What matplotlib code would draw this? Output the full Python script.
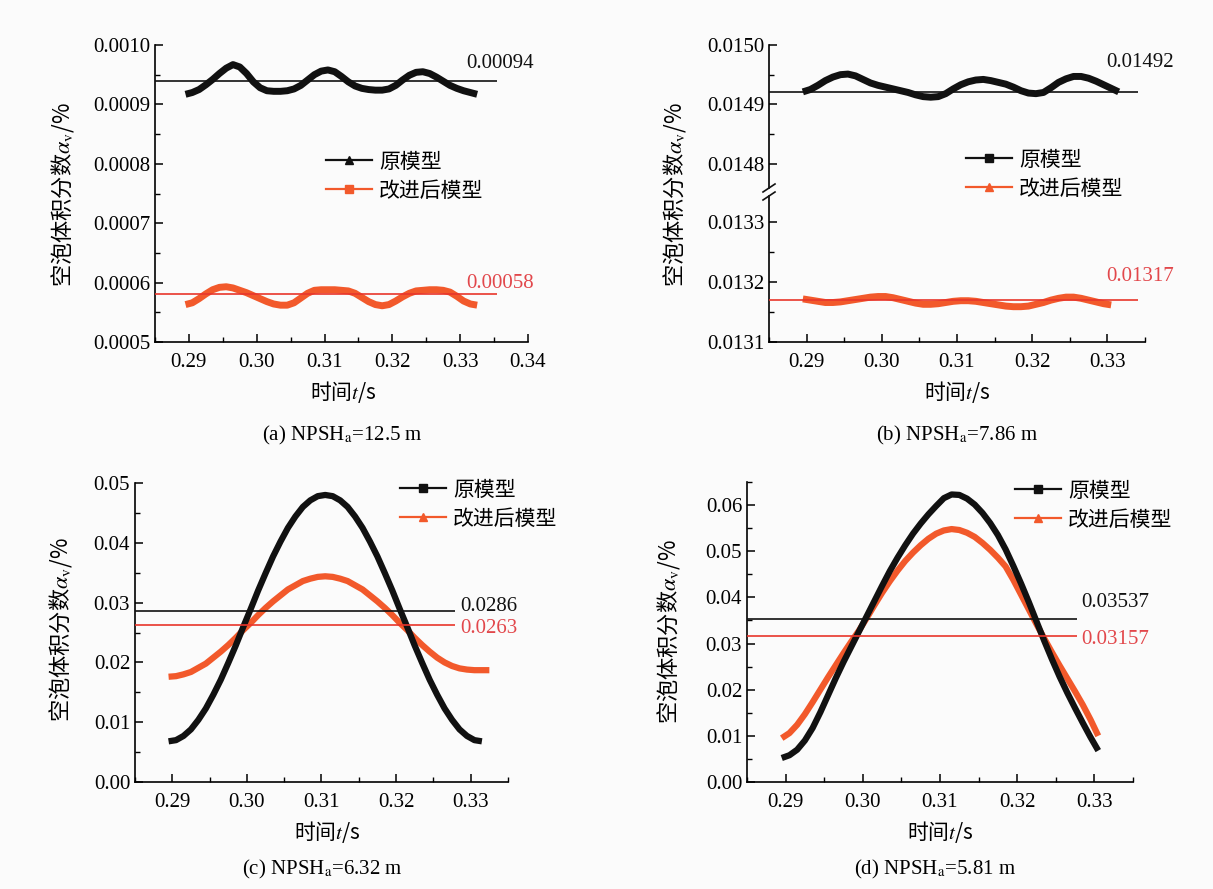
import numpy as np
import matplotlib
matplotlib.use('Agg')
import matplotlib.pyplot as plt
from matplotlib.lines import Line2D
from matplotlib.ticker import MultipleLocator, FormatStrFormatter

plt.rcParams['font.family'] = ['Liberation Serif', 'Noto Sans CJK SC']
plt.rcParams['mathtext.fontset'] = 'stix'
plt.rcParams['font.size'] = 15
plt.rcParams['axes.unicode_minus'] = False

nan = np.nan

# shared time axis (s)
time_s = [0.2895, 0.2905, 0.2915, 0.2925, 0.2935, 0.2945, 0.2955, 0.2965, 0.2975, 0.2985,
          0.2995, 0.3005, 0.3015, 0.3025, 0.3035, 0.3045, 0.3055, 0.3065, 0.3075, 0.3085,
          0.3095, 0.3105, 0.3115, 0.3125, 0.3135, 0.3145, 0.3155, 0.3165, 0.3175, 0.3185,
          0.3195, 0.3205, 0.3215, 0.3225, 0.3235, 0.3245, 0.3255, 0.3265, 0.3275, 0.3285,
          0.3295, 0.3305, 0.3315, 0.3325]

# (a) NPSHa = 12.5 m
a_orig = [9.17e-4, 9.20e-4, 9.25e-4, 9.33e-4, 9.42e-4, 9.52e-4, 9.61e-4, 9.67e-4, 9.63e-4, 9.52e-4,
          9.38e-4, 9.28e-4, 9.23e-4, 9.22e-4, 9.22e-4, 9.23e-4, 9.26e-4, 9.32e-4, 9.41e-4, 9.50e-4,
          9.56e-4, 9.58e-4, 9.55e-4, 9.47e-4, 9.38e-4, 9.31e-4, 9.27e-4, 9.25e-4, 9.24e-4, 9.24e-4,
          9.26e-4, 9.32e-4, 9.41e-4, 9.49e-4, 9.54e-4, 9.55e-4, 9.52e-4, 9.46e-4, 9.39e-4, 9.32e-4,
          9.27e-4, 9.23e-4, 9.20e-4, 9.17e-4]
a_impr = [5.63e-4, 5.66e-4, 5.73e-4, 5.81e-4, 5.88e-4, 5.92e-4, 5.93e-4, 5.91e-4, 5.87e-4, 5.83e-4,
          5.78e-4, 5.73e-4, 5.68e-4, 5.64e-4, 5.62e-4, 5.62e-4, 5.66e-4, 5.74e-4, 5.82e-4, 5.87e-4,
          5.88e-4, 5.88e-4, 5.88e-4, 5.87e-4, 5.86e-4, 5.82e-4, 5.75e-4, 5.68e-4, 5.63e-4, 5.61e-4,
          5.63e-4, 5.69e-4, 5.76e-4, 5.82e-4, 5.86e-4, 5.87e-4, 5.88e-4, 5.88e-4, 5.87e-4, 5.84e-4,
          5.77e-4, 5.69e-4, 5.64e-4, 5.62e-4]
a_mean = [0.00094, 0.00058]
a_mean_text = ['0.00094', '0.00058']

# (b) NPSHa = 7.86 m
b_orig = [0.014921, 0.014925, 0.014932, 0.014940, 0.014946, 0.014950, 0.014951, 0.014948, 0.014942, 0.014936,
          0.014932, 0.014929, 0.014926, 0.014923, 0.014920, 0.014916, 0.014913, 0.014912, 0.014913, 0.014918,
          0.014926, 0.014933, 0.014938, 0.014941, 0.014942, 0.014940, 0.014937, 0.014934, 0.014929, 0.014923,
          0.014919, 0.014918, 0.014920, 0.014928, 0.014937, 0.014943, 0.014947, 0.014947, 0.014944, 0.014939,
          0.014933, 0.014927, 0.014921, nan]
b_impr = [0.013172, 0.013170, 0.013168, 0.013166, 0.013166, 0.013167, 0.013169, 0.013171, 0.013173, 0.013175,
          0.013176, 0.013176, 0.013174, 0.013171, 0.013168, 0.013165, 0.013163, 0.013163, 0.013164, 0.013166,
          0.013168, 0.013169, 0.013169, 0.013168, 0.013166, 0.013164, 0.013162, 0.013160, 0.013159, 0.013159,
          0.013160, 0.013163, 0.013166, 0.013170, 0.013173, 0.013175, 0.013175, 0.013173, 0.013170, 0.013167,
          0.013164, 0.013162, nan, nan]
b_mean = [0.01492, 0.01317]
b_mean_text = ['0.01492', '0.01317']

# (c) NPSHa = 6.32 m
c_orig = [0.0068, 0.0070, 0.0077, 0.0088, 0.0104, 0.0123, 0.0146, 0.0171, 0.0199, 0.0228,
          0.0259, 0.0289, 0.0320, 0.0349, 0.0377, 0.0402, 0.0425, 0.0444, 0.0460, 0.0471,
          0.0478, 0.0480, 0.0478, 0.0471, 0.0460, 0.0444, 0.0425, 0.0402, 0.0377, 0.0349,
          0.0320, 0.0289, 0.0259, 0.0228, 0.0199, 0.0171, 0.0146, 0.0123, 0.0104, 0.0088,
          0.0077, 0.0070, 0.0068, nan]
c_impr = [0.0176, 0.0177, 0.0180, 0.0184, 0.0191, 0.0198, 0.0208, 0.0218, 0.0229, 0.0241,
          0.0254, 0.0266, 0.0279, 0.0291, 0.0302, 0.0312, 0.0322, 0.0329, 0.0336, 0.0340,
          0.0343, 0.0344, 0.0343, 0.0340, 0.0336, 0.0329, 0.0322, 0.0312, 0.0302, 0.0291,
          0.0279, 0.0266, 0.0254, 0.0241, 0.0229, 0.0218, 0.0208, 0.0200, 0.0194, 0.0190,
          0.0188, 0.0187, 0.0187, 0.0187]
c_mean = [0.0286, 0.0263]
c_mean_text = ['0.0286', '0.0263']

# (d) NPSHa = 5.81 m
d_orig = [0.0052, 0.0058, 0.0070, 0.0090, 0.0117, 0.0151, 0.0188, 0.0225, 0.0260, 0.0293,
          0.0326, 0.0359, 0.0392, 0.0425, 0.0457, 0.0486, 0.0513, 0.0538, 0.0560, 0.0580,
          0.0598, 0.0615, 0.0623, 0.0622, 0.0614, 0.0601, 0.0583, 0.0561, 0.0535, 0.0504,
          0.0468, 0.0430, 0.0390, 0.0348, 0.0306, 0.0266, 0.0228, 0.0193, 0.0160, 0.0128,
          0.0097, 0.0068, nan, nan]
d_impr = [0.0095, 0.0106, 0.0124, 0.0147, 0.0173, 0.0200, 0.0227, 0.0253, 0.0279, 0.0304,
          0.0328, 0.0355, 0.0383, 0.0410, 0.0435, 0.0458, 0.0479, 0.0497, 0.0513, 0.0527,
          0.0538, 0.0545, 0.0548, 0.0546, 0.0540, 0.0531, 0.0518, 0.0503, 0.0486, 0.0467,
          0.0438, 0.0406, 0.0374, 0.0342, 0.0311, 0.0281, 0.0252, 0.0224, 0.0196, 0.0167,
          0.0135, 0.0100, nan, nan]
d_mean = [0.03537, 0.03157]
d_mean_text = ['0.03537', '0.03157']

series_names = ['原模型', '改进后模型']
captions = ['(a) NPSH$_{\\rm a}$=12.5 m', '(b) NPSH$_{\\rm a}$=7.86 m',
            '(c) NPSH$_{\\rm a}$=6.32 m', '(d) NPSH$_{\\rm a}$=5.81 m']
ylabel = '空泡体积分数$\\alpha_{\\rm v}$/%'
xlabel = '时间$t$/s'
CJK = 'Noto Sans CJK SC'

BLACK = '#111111'
RED = '#f2592b'
RED_LINE = '#e8352b'
RED_TEXT = '#e2474b'

W, H = 1213, 889
fig = plt.figure(figsize=(W / 100, H / 100), dpi=100, facecolor='#fbfbfb')


def px_axes(l, t, r, b):
    ax = fig.add_axes([l / W, 1 - b / H, (r - l) / W, (b - t) / H])
    ax.patch.set_alpha(0)
    return ax


def style(ax, ymaj, ymin, yfmt, xaxis=True):
    for s in ['top', 'right']:
        ax.spines[s].set_visible(False)
    for s in ['left', 'bottom']:
        ax.spines[s].set_linewidth(1.2)
    ax.yaxis.set_major_locator(MultipleLocator(ymaj))
    ax.yaxis.set_minor_locator(MultipleLocator(ymin))
    ax.yaxis.set_major_formatter(FormatStrFormatter(yfmt))
    ax.tick_params(which='major', direction='in', length=6, width=1.1, labelsize=15)
    ax.tick_params(which='minor', direction='in', length=3.5, width=1.0)
    ax.tick_params(axis='y', which='both', right=False)
    ax.tick_params(axis='x', which='both', top=False)
    if xaxis:
        ax.xaxis.set_major_locator(MultipleLocator(0.01))
        ax.xaxis.set_minor_locator(MultipleLocator(0.005))
        ax.xaxis.set_major_formatter(FormatStrFormatter('%.2f'))
        ax.tick_params(axis='x', which='major', pad=8)
    else:
        ax.spines['bottom'].set_visible(False)
        ax.tick_params(axis='x', which='both', bottom=False, labelbottom=False)


def draw_pair(ax, orig, impr, lw):
    ax.plot(time_s, impr, color=RED, lw=lw, solid_capstyle='butt', zorder=2)
    ax.plot(time_s, orig, color=BLACK, lw=lw, solid_capstyle='butt', zorder=3)


def mean_line(ax, value, xend, color):
    ax.hlines(value, 0.285, xend, color=color, lw=1.2, zorder=4)


def legend(x, y, markers):
    handles = [Line2D([], [], color=BLACK, lw=1.6, marker=markers[0], ms=5.5),
               Line2D([], [], color=RED, lw=1.6, marker=markers[1], ms=5.5)]
    fig.legend(handles, series_names, loc='upper left', bbox_to_anchor=(x / W, 1 - y / H),
               frameon=False, borderpad=0, borderaxespad=0, handlelength=2.2,
               handletextpad=0.35, labelspacing=0.45, fontsize=15)


def labels(xl, yl_x, yl_y, xl_y, cap, cap_x, cap_y):
    fig.text(yl_x / W, 1 - yl_y / H, ylabel, rotation=90, ha='center', va='center',
             fontsize=16, family=CJK)
    fig.text(xl / W, 1 - xl_y / H, xlabel, ha='center', va='center', fontsize=15, family=CJK)
    fig.text(cap_x / W, 1 - cap_y / H, cap, ha='center', va='center', fontsize=15)


# ---- (a) ----
ax = px_axes(155, 45, 528, 342)
draw_pair(ax, a_orig, a_impr, 5)
mean_line(ax, a_mean[0], 0.3355, BLACK)
mean_line(ax, a_mean[1], 0.3355, RED_LINE)
ax.text(0.3309, 0.000969, a_mean_text[0], va='center', ha='left', fontsize=15, color=BLACK)
ax.text(0.3309, 0.000599, a_mean_text[1], va='center', ha='left', fontsize=15, color=RED_TEXT)
ax.set_xlim(0.285, 0.34)
ax.set_ylim(0.0005, 0.0010)
style(ax, 0.0001, 0.00005, '%.4f')
legend(326, 153, ['^', 's'])
labels(343, 62, 195, 392, captions[0], 342, 435)

# ---- (b) broken axis ----
axt = px_axes(769, 45, 1145, 188)
axb = px_axes(769, 196, 1145, 342)
axt.plot(time_s, b_orig, color=BLACK, lw=5, solid_capstyle='butt', zorder=3)
axb.plot(time_s, b_impr, color=RED, lw=5, solid_capstyle='butt', zorder=3)
mean_line(axt, b_mean[0], 0.3341, BLACK)
mean_line(axb, b_mean[1], 0.3341, RED_LINE)
axt.text(0.3299, 0.014970, b_mean_text[0], va='center', ha='left', fontsize=15, color=BLACK)
axb.text(0.3299, 0.013209, b_mean_text[1], va='center', ha='left', fontsize=15, color=RED_TEXT)
for a_ in (axt, axb):
    a_.set_xlim(0.285, 0.335)
axt.set_ylim(0.014759, 0.0150)
axb.set_ylim(0.0131, 0.013344)
style(axt, 0.0001, 0.00005, '%.4f', xaxis=False)
style(axb, 0.0001, 0.00005, '%.4f')
axb.spines['top'].set_visible(False)
for yc in (188, 196):
    fig.add_artist(Line2D([763 / W, 775 / W], [1 - (yc + 4) / H, 1 - (yc - 4) / H],
                          color=BLACK, lw=1.2, transform=fig.transFigure))
legend(966, 151, ['s', '^'])
labels(957, 675, 195, 392, captions[1], 957, 435)

# ---- (c) ----
ax = px_axes(135, 483, 508, 782)
draw_pair(ax, c_orig, c_impr, 4.5)
mean_line(ax, c_mean[0], 0.3279, BLACK)
mean_line(ax, c_mean[1], 0.3279, RED_LINE)
ax.text(0.3286, 0.02943, c_mean_text[0], va='center', ha='left', fontsize=15, color=BLACK)
ax.text(0.3286, 0.02559, c_mean_text[1], va='center', ha='left', fontsize=15, color=RED_TEXT)
ax.set_xlim(0.285, 0.335)
ax.set_ylim(0, 0.05)
style(ax, 0.01, 0.005, '%.2f')
legend(400, 481, ['s', '^'])
labels(327, 60, 630, 832, captions[2], 322, 869)

# ---- (d) ----
ax = px_axes(747, 482, 1133, 782)
draw_pair(ax, d_orig, d_impr, 4.5)
mean_line(ax, d_mean[0], 0.3277, BLACK)
mean_line(ax, d_mean[1], 0.3277, RED_LINE)
ax.text(0.3283, 0.03891, d_mean_text[0], va='center', ha='left', fontsize=15, color=BLACK)
ax.text(0.3283, 0.03087, d_mean_text[1], va='center', ha='left', fontsize=15, color=RED_TEXT)
ax.set_xlim(0.285, 0.335)
ax.set_ylim(0, 0.065)
style(ax, 0.01, 0.005, '%.2f')
legend(1015, 482, ['s', '^'])
labels(940, 668, 632, 832, captions[3], 935, 869)

fig.savefig('out.png', dpi=100, facecolor=fig.get_facecolor())
